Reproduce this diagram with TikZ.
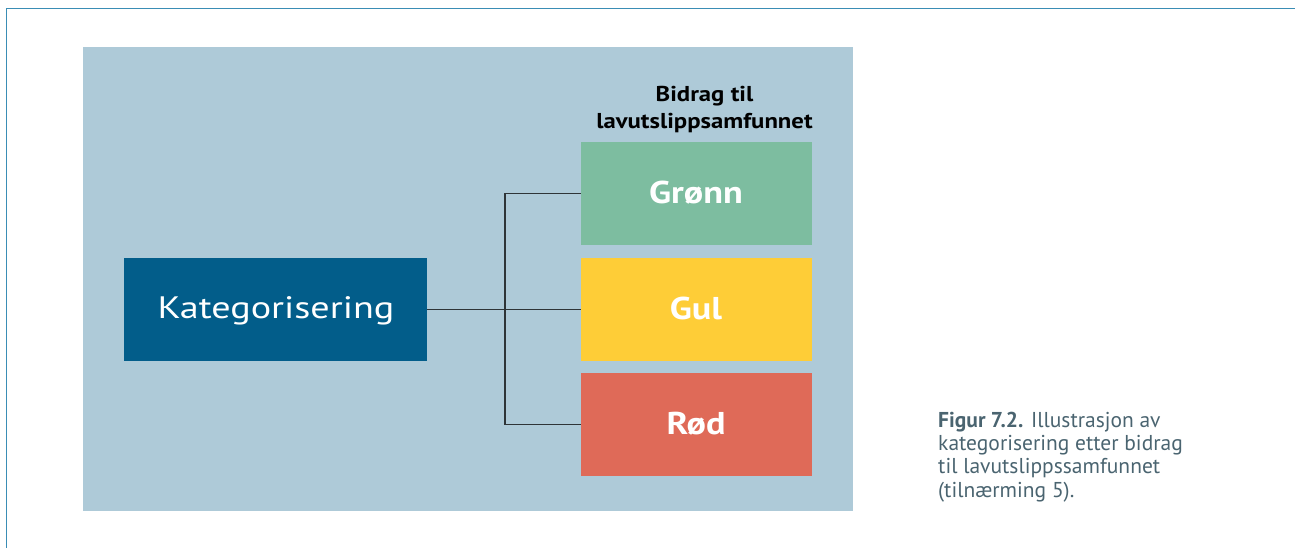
\documentclass[tikz,border=0pt]{standalone}
\usepackage{fontspec}
\setmainfont{PT Sans}
\newcommand\hstretch[2]{\scalebox{#1}[1]{#2}}
\definecolor{frameblue}{HTML}{3A8DB5}
\definecolor{panelblue}{HTML}{AECAD8}
\definecolor{catblue}{HTML}{025D8A}
\definecolor{greenbox}{HTML}{7DBDA0}
\definecolor{yellowbox}{HTML}{FECD37}
\definecolor{redbox}{HTML}{DF6A58}
\definecolor{captiongray}{HTML}{4A6470}
\definecolor{linegray}{HTML}{2E3437}
\begin{document}
\begin{tikzpicture}[x=1pt,y=-1pt,
  catbox/.style={draw=none,minimum width=231pt,minimum height=103pt,inner sep=0pt},
  boxtext/.style={anchor=base,inner sep=0pt,text=white,font=\fontsize{31.5}{36}\selectfont\bfseries},
  headtext/.style={anchor=base,inner sep=0pt,font=\fontsize{21.5}{27}\selectfont\bfseries},
  connector/.style={draw=linegray,line width=1.2pt}]
\useasboundingbox (0,0) rectangle (1295,548);
% outer frame (top and left rules)
\draw[frameblue,line width=1.6pt] (6.5,548) -- (6.5,8.5) -- (1295,8.5);
% background panel
\fill[panelblue] (83,47) rectangle (853,511);
% source node
\node[fill=catblue,minimum width=303pt,minimum height=103pt,inner sep=0pt] (kat) at (275.5,309.5) {};
\node[anchor=base,inner sep=0pt,text=white,font=\fontsize{31}{36}\selectfont] (katlabel) at (276,318.3)
  {\hstretch{1.23}{Kategorisering}};
% category boxes
\node[catbox,fill=greenbox] (gronn) at (696.5,193.5) {};
\node[catbox,fill=yellowbox] (gul) at (696.5,309.5) {};
\node[catbox,fill=redbox] (rod) at (696.5,424.5) {};
\node[boxtext] (gronnlabel) at (696,204) {\hstretch{1.15}{Grønn}};
\node[boxtext] (gullabel) at (696,319) {\hstretch{1.15}{Gul}};
\node[boxtext] (rodlabel) at (696,434) {\hstretch{1.15}{Rød}};
% heading
\node[headtext] (head1) at (704.5,102) {\hstretch{1.15}{Bidrag til}};
\node[headtext] (head2) at (704.5,129) {\hstretch{1.15}{lavutslippsamfunnet}};
% connectors
\coordinate (split) at (505,309.5);
\draw[connector] (kat.east) -- (gul.west);
\draw[connector] (gronn.west) -- (split |- gronn.west) -- (split |- rod.west) -- (rod.west);
% caption
\begin{scope}[every node/.style={anchor=base west,inner sep=0pt,text=captiongray,font=\fontsize{21.5}{24}\selectfont}]
\node (cap1) at (938,427) {\textbf{Figur 7.2.} Illustrasjon av};
\node (cap2) at (938,450.3) {kategorisering etter bidrag};
\node (cap3) at (938,473.6) {til lavutslippssamfunnet};
\node (cap4) at (938,497) {(tilnærming 5).};
\end{scope}
\end{tikzpicture}
\end{document}
